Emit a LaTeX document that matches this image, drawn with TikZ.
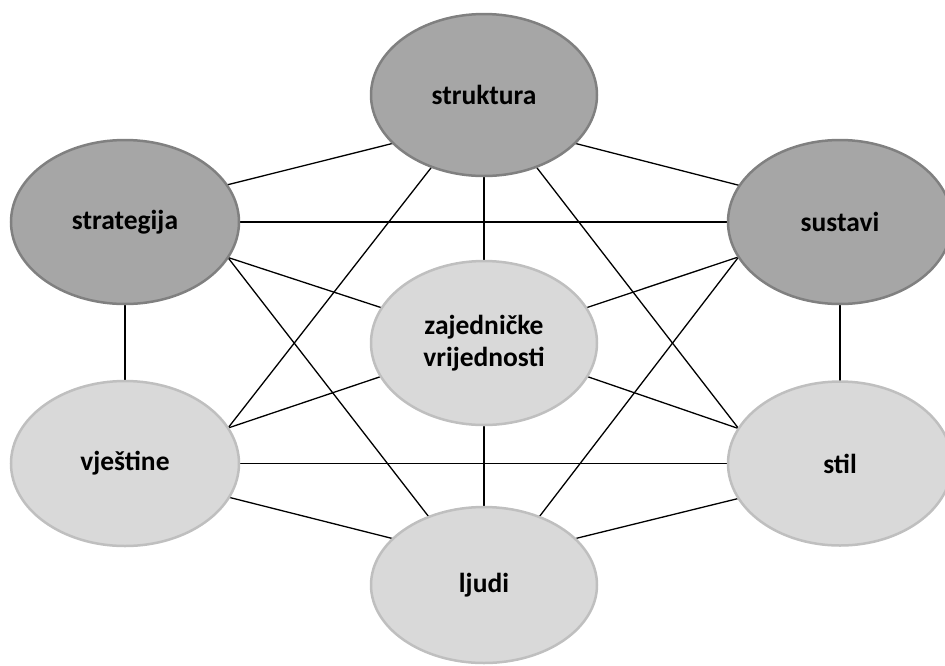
\documentclass[tikz,border=0pt]{standalone}
\usepackage{fontspec}
\setmainfont{Carlito}
\usetikzlibrary{shapes.geometric,backgrounds}
\definecolor{dfill}{HTML}{A6A6A6}
\definecolor{dborder}{HTML}{808080}
\definecolor{lfill}{HTML}{D9D9D9}
\definecolor{lborder}{HTML}{BFBFBF}
\begin{document}
\begin{tikzpicture}[x=1pt,y=-1pt,
  oval/.style={ellipse, inner sep=0pt, outer sep=0pt, line width=2.5pt,
    font=\fontsize{27.5}{32.5}\selectfont\bfseries, align=center, text=black},
  darkoval/.style={oval, fill=dfill, draw=dborder},
  lightoval/.style={oval, fill=lfill, draw=lborder},
  link/.style={line width=1.3pt, draw=black}]
\useasboundingbox (0,0) rectangle (945,665);

\node[darkoval, minimum width=226pt, minimum height=162pt] (struk) at (484,95) {struktura};
\node[darkoval, minimum width=228pt, minimum height=164pt] (strat) at (125,222) {strategija};
\node[darkoval, minimum width=224pt, minimum height=164pt] (sust) at (840,222) {sustavi};
\node[lightoval, minimum width=226pt, minimum height=164pt] (zaj) at (484,343) {zajedničke\\vrijednosti};
\node[lightoval, minimum width=228pt, minimum height=165pt] (vjes) at (125,463.5) {vještine};
\node[lightoval, minimum width=224pt, minimum height=164pt] (stil) at (840,463.5) {stil};
\node[lightoval, minimum width=226pt, minimum height=156pt] (ljudi) at (484,585) {ljudi};

\begin{scope}[on background layer]
\draw[link] (struk.-152) -- (strat.20);
\draw[link] (struk.-28) -- (sust.160);
\draw[link] (struk.-90) -- (zaj.90);
\draw[link] (struk.-126) -- (vjes.19);
\draw[link] (struk.-54) -- (stil.161);
\draw[link] (strat.0) -- (sust.180);
\draw[link] (strat.-19) -- (zaj.161);
\draw[link] (strat.-19) -- (ljudi.129);
\draw[link] (strat.-90) -- (vjes.90);
\draw[link] (sust.-161) -- (zaj.19);
\draw[link] (sust.-161) -- (ljudi.51);
\draw[link] (sust.-90) -- (stil.90);
\draw[link] (zaj.-162) -- (vjes.19);
\draw[link] (zaj.-18) -- (stil.161);
\draw[link] (zaj.-90) -- (ljudi.90);
\draw[link] (vjes.0) -- (stil.180);
\draw[link] (vjes.-18) -- (ljudi.153);
\draw[link] (stil.-161) -- (ljudi.27);
\end{scope}
\end{tikzpicture}
\end{document}
